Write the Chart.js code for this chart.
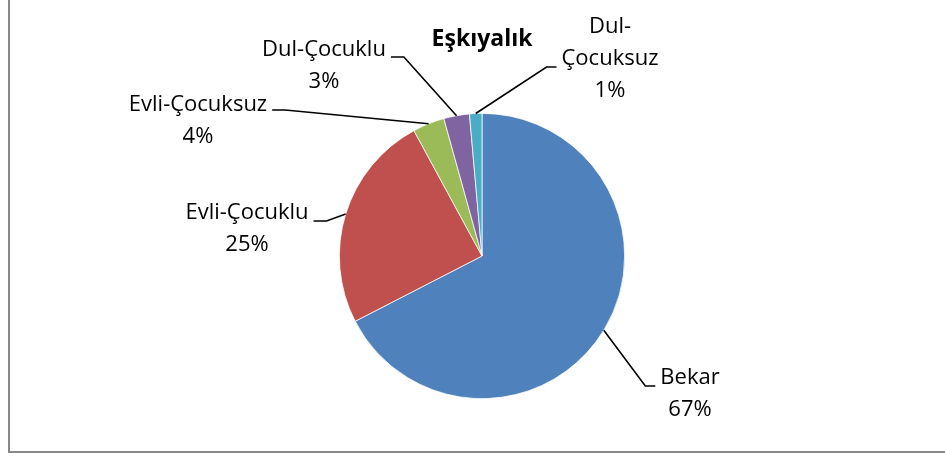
<!DOCTYPE html>
<html>
<head>
<meta charset="utf-8">
<script src="https://cdn.jsdelivr.net/npm/chart.js@4"></script>
<style>
  html, body { margin: 0; padding: 0; background: #fff; }
  #wrap { position: relative; width: 945px; height: 456px; }
  #frame { position: absolute; left: 8px; top: 0; width: 937px; height: 451px;
           border-left: 2px solid #888; border-bottom: 2px solid #888; box-sizing: content-box; }
  canvas { position: absolute; left: 0; top: 0; }
</style>
</head>
<body>
<div id="wrap">
  <div id="frame"></div>
  <canvas id="chartPie" width="945" height="456"></canvas>
</div>
<script>
// Datos
const title = 'Eşkıyalık';
const categories = ['Bekar', 'Evli-Çocuklu', 'Evli-Çocuksuz', 'Dul-Çocuklu', 'Dul-Çocuksuz'];
const values = [67.3, 24.6, 3.6, 2.9, 1.4];
const colors = ['#4F81BD', '#C0504D', '#9BBB59', '#8064A2', '#4BACC6'];

// Posición de las etiquetas respecto al centro de la torta (px)
const labelLayout = [
  { lines: ['Bekar'], cx: 208, y0: 122, leaderY: 130, side: 'right' },
  { lines: ['Evli-Çocuklu'], cx: -235, y0: -43, leaderY: -35, side: 'left' },
  { lines: ['Evli-Çocuksuz'], cx: -284, y0: -151, leaderY: -146, side: 'left' },
  { lines: ['Dul-Çocuklu'], cx: -158, y0: -206, leaderY: -199, side: 'left' },
  { lines: ['Dul-', 'Çocuksuz'], cx: 128, y0: -229, leaderY: -189, side: 'right', attach: 1 }
];

const FONT = '22px "Open Sans"';
const LINE_H = 32;

const total = values.reduce((a, b) => a + b, 0);

const labelPlugin = {
  id: 'excelLabels',
  afterDraw(chart) {
    const ctx = chart.ctx;
    const meta = chart.getDatasetMeta(0);
    ctx.save();
    ctx.fillStyle = '#000';
    ctx.textAlign = 'center';
    ctx.textBaseline = 'middle';

    const c0 = meta.data[0];
    const cx = c0.x, cy = c0.y;

    // título
    ctx.font = 'bold 23px "Open Sans"';
    ctx.fillText(title, cx, cy - 217);

    ctx.font = FONT;
    meta.data.forEach((arc, i) => {
      const L = labelLayout[i];
      const pct = Math.round(values[i] / total * 100) + '%';
      const lines = L.lines.concat([pct]);
      const lx = cx + L.cx;
      lines.forEach((t, k) => ctx.fillText(t, lx, cy + L.y0 + k * LINE_H));

      // línea guía
      const attach = L.attach || 0;
      const w = ctx.measureText(lines[attach]).width;
      const mid = (arc.startAngle + arc.endAngle) / 2;
      const sx = arc.x + Math.cos(mid) * arc.outerRadius;
      const sy = arc.y + Math.sin(mid) * arc.outerRadius;
      const ly = cy + L.leaderY;
      let ex, kx;
      if (L.side === 'right') { ex = lx - w / 2 - 5; kx = ex - 10; }
      else { ex = lx + w / 2 + 5; kx = ex + 13; }
      ctx.beginPath();
      ctx.strokeStyle = '#000';
      ctx.lineWidth = 1.6;
      ctx.moveTo(sx, sy);
      ctx.lineTo(kx, ly);
      ctx.lineTo(ex, ly);
      ctx.stroke();
    });
    ctx.restore();
  }
};

const ctxPie = document.getElementById('chartPie').getContext('2d');
const chartPie = new Chart(ctxPie, {
  type: 'pie',
  data: {
    labels: categories,
    datasets: [{
      data: values,
      backgroundColor: colors,
      borderColor: '#fff',
      borderWidth: 0.75
    }]
  },
  options: {
    responsive: false,
    animation: false,
    layout: { padding: { left: 339, right: 320, top: 113, bottom: 57 } },
    plugins: { legend: { display: false }, tooltip: { enabled: false } }
  },
  plugins: [labelPlugin]
});
</script>
</body>
</html>
